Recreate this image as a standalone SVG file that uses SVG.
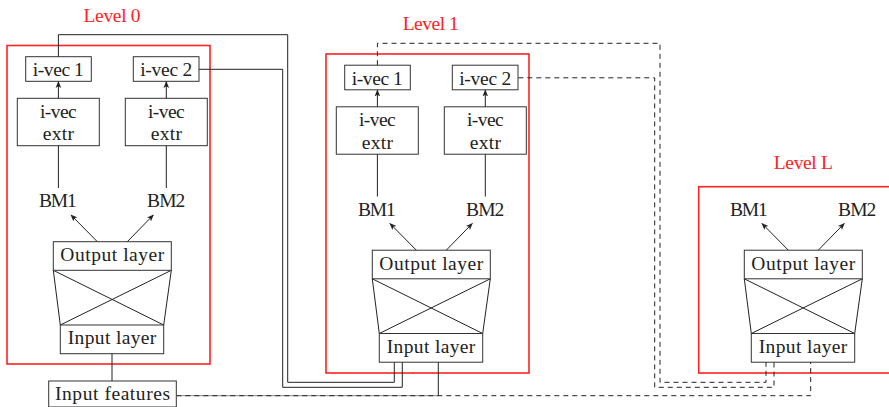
<svg xmlns="http://www.w3.org/2000/svg" width="889" height="407" viewBox="0 0 889 407">
<style>
text{font-family:"Liberation Serif","DejaVu Serif",serif;font-size:19.5px;fill:#222;text-anchor:middle}
text.lv{fill:#f22}
.box{fill:#fff;stroke:#333;stroke-width:1}
.lvl{fill:none;stroke:#f22;stroke-width:1.6}
.ln{fill:none;stroke:#222;stroke-width:1}
.ds{fill:none;stroke:#222;stroke-width:1;stroke-dasharray:5 4}
.ar{fill:none;stroke:#222;stroke-width:1;marker-end:url(#ah)}
</style>
<defs>
<marker id="ah" viewBox="0 0 10 10" refX="9" refY="5" markerWidth="7" markerHeight="7" markerUnits="userSpaceOnUse" orient="auto">
<path d="M0,1 L10,5 L0,9 L2.5,5 Z" fill="#222"/>
</marker>
</defs>

<!-- Level frames -->
<g id="level0-frame"><rect class="lvl" x="7" y="45.5" width="203" height="318.5"/><text class="lv" x="112" y="22" textLength="57">Level 0</text></g>
<g id="level1-frame"><rect class="lvl" x="326" y="54" width="203" height="319"/><text class="lv" x="430.7" y="30" textLength="56">Level 1</text></g>
<g id="levelL-frame"><rect class="lvl" x="698.7" y="186.7" width="210" height="186.3"/><text class="lv" x="803.3" y="169.3" textLength="59">Level L</text></g>

<!-- Level 0 nodes -->
<g id="l0-ivec1"><rect class="box" x="25.7" y="56.7" width="65.6" height="24.6"/><text x="58.3" y="76" textLength="51">i-vec 1</text></g>
<g id="l0-ivec2"><rect class="box" x="133.3" y="56.7" width="65.7" height="24.6"/><text x="166.2" y="76" textLength="52">i-vec 2</text></g>
<g id="l0-extr1"><rect class="box" x="17.3" y="98.3" width="82" height="47.4"/><text x="58.3" y="117.7" textLength="36.7">i-vec</text><text x="58.3" y="140" textLength="31.3">extr</text></g>
<g id="l0-extr2"><rect class="box" x="125.3" y="98.3" width="82" height="47.4"/><text x="166.3" y="117.7" textLength="36.7">i-vec</text><text x="166.3" y="140" textLength="31.3">extr</text></g>
<g id="l0-bm1"><text x="57.8" y="207.3" textLength="37.7">BM1</text></g>
<g id="l0-bm2"><text x="166.2" y="207.3" textLength="38.3">BM2</text></g>
<g id="l0-net">
<path class="ln" d="M53.3,270.3 L60.3,325 M171.3,270.3 L163.7,325 M53.3,270.3 L163.7,325 M171.3,270.3 L60.3,325"/>
<rect class="box" x="53.3" y="241.7" width="118" height="28.6"/><text x="112.3" y="261" textLength="104">Output layer</text>
<rect class="box" x="60.3" y="325" width="103.4" height="28.7"/><text x="112" y="344" textLength="88.6">Input layer</text>
</g>
<g id="input-features"><rect class="box" x="48.7" y="381" width="127.6" height="26"/><text x="112.5" y="400" textLength="115">Input features</text></g>

<!-- Level 1 nodes -->
<g transform="translate(319,8.5)">
<g id="l1-ivec1"><rect class="box" x="25.7" y="56.7" width="65.6" height="24.6"/><text x="58.3" y="76" textLength="51">i-vec 1</text></g>
<g id="l1-ivec2"><rect class="box" x="133.3" y="56.7" width="65.7" height="24.6"/><text x="166.2" y="76" textLength="52">i-vec 2</text></g>
<g id="l1-extr1"><rect class="box" x="17.3" y="98.3" width="82" height="47.4"/><text x="58.3" y="117.7" textLength="36.7">i-vec</text><text x="58.3" y="140" textLength="31.3">extr</text></g>
<g id="l1-extr2"><rect class="box" x="125.3" y="98.3" width="82" height="47.4"/><text x="166.3" y="117.7" textLength="36.7">i-vec</text><text x="166.3" y="140" textLength="31.3">extr</text></g>
<g id="l1-bm1"><text x="57.8" y="207.3" textLength="37.7">BM1</text></g>
<g id="l1-bm2"><text x="166.2" y="207.3" textLength="38.3">BM2</text></g>
<g id="l1-net">
<path class="ln" d="M53.3,270.3 L60.3,325 M171.3,270.3 L163.7,325 M53.3,270.3 L163.7,325 M171.3,270.3 L60.3,325"/>
<rect class="box" x="53.3" y="241.7" width="118" height="28.6"/><text x="112.3" y="261" textLength="104">Output layer</text>
<rect class="box" x="60.3" y="325" width="103.4" height="28.7"/><text x="112" y="344" textLength="88.6">Input layer</text>
</g>
</g>

<!-- Level L nodes -->
<g transform="translate(691,8.5)">
<g id="lL-bm1"><text x="57.8" y="207.3" textLength="37.7">BM1</text></g>
<g id="lL-bm2"><text x="166.2" y="207.3" textLength="38.3">BM2</text></g>
<g id="lL-net">
<path class="ln" d="M53.3,270.3 L60.3,325 M171.3,270.3 L163.7,325 M53.3,270.3 L163.7,325 M171.3,270.3 L60.3,325"/>
<rect class="box" x="53.3" y="241.7" width="118" height="28.6"/><text x="112.3" y="261" textLength="104">Output layer</text>
<rect class="box" x="60.3" y="325" width="103.4" height="28.7"/><text x="112" y="344" textLength="88.6">Input layer</text>
</g>
</g>

<!-- Connectors -->
<g id="connectors">
<path class="ar" d="M58.4,98.3 V81.6"/>
<path class="ar" d="M166.3,98.3 V81.6"/>
<path class="ln" d="M58.4,145.7 V188 M166.3,145.7 V188"/>
<path class="ar" d="M97.3,241.7 L71,215"/>
<path class="ar" d="M127.3,241.7 L153.3,215"/>
<path class="ln" d="M112,353.7 V381"/>

<path class="ar" d="M377.4,106.8 V90.1"/>
<path class="ar" d="M485.3,106.8 V90.1"/>
<path class="ln" d="M377.4,154.2 V196.5 M485.3,154.2 V196.5"/>
<path class="ar" d="M416.3,250.2 L390,223.5"/>
<path class="ar" d="M446.3,250.2 L472.3,223.5"/>

<path class="ar" d="M788.3,250.2 L762,223.5"/>
<path class="ar" d="M818.3,250.2 L844.3,223.5"/>

<path class="ln" d="M58.4,56.7 V34.7 H287.7 V382.3 H394.3 V362.2"/>
<path class="ln" d="M199,69.3 H282.7 V387.3 H402.3 V362.2"/>
<path class="ln" style="stroke:#888" d="M176.3,395.7 H438.3"/>
<path class="ln" d="M438.3,395.7 V362.2"/>
<path class="ds" d="M176.3,395.7 H810.7 V362.2"/>
<path class="ds" d="M377.4,65.2 V43.3 H660 V382.3 H766 V362.2"/>
<path class="ds" d="M518.3,77.8 H654.7 V387.3 H774 V362.2"/>
</g>
</svg>
